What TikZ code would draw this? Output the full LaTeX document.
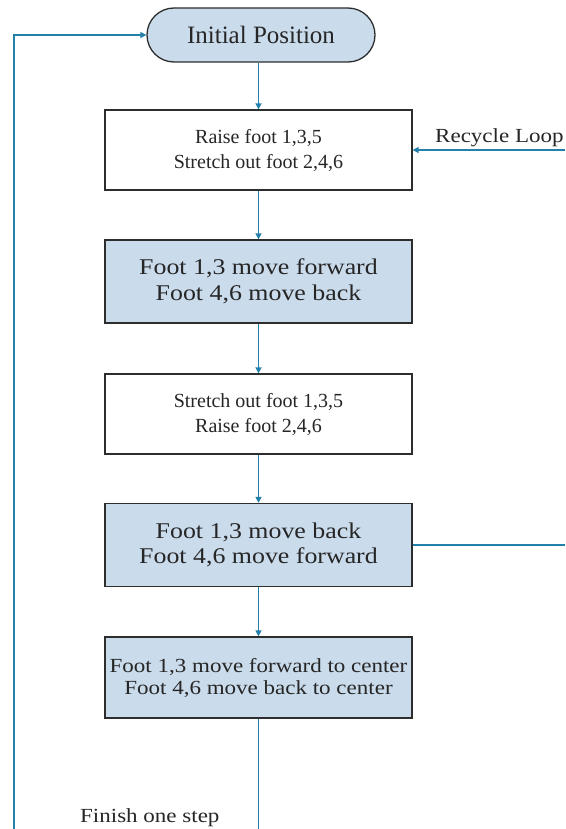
\documentclass[tikz,border=0pt]{standalone}
\usepackage{fontspec}
\setmainfont{Liberation Serif}
\newfontfamily\widefont{Liberation Serif}[FakeStretch=1.15]
\usetikzlibrary{arrows.meta}
\definecolor{flow}{RGB}{35,128,170}
\definecolor{boxfill}{RGB}{202,219,235}
\definecolor{boxline}{RGB}{45,45,45}
\tikzset{
  base/.style={draw=boxline, line width=1.3pt, rectangle, minimum width=307pt, inner sep=2pt, align=center, text=black!85},
  plainbox/.style={base, fill=white, minimum height=80pt, font=\fontsize{20}{25}\selectfont},
  bluebox/.style={base, fill=boxfill, minimum height=83pt, font=\widefont\fontsize{22.5}{25.5}\selectfont},
  smallblue/.style={base, fill=boxfill, minimum height=81pt, font=\widefont\fontsize{20}{22}\selectfont},
  term/.style={base, fill=boxfill, minimum width=228pt, minimum height=54pt, rounded corners=27pt, font=\fontsize{25}{28}\selectfont},
  conn/.style={draw=flow, line width=1.7pt},
  arr/.style={conn, -{Triangle[length=6pt,width=6pt]}},
  lbl/.style={font=\widefont\fontsize{20}{22}\selectfont, text=black!85, inner sep=0pt, anchor=base west}
}
\begin{document}
\begin{tikzpicture}[x=1pt,y=-1pt]
\useasboundingbox (0,0) rectangle (565,829);
\node[term] (init) at (261,35) {Initial Position};
\node[plainbox] (b1) at (258.5,150) {Raise foot 1,3,5\\Stretch out foot 2,4,6};
\node[bluebox] (b2) at (258.5,281.5) {Foot 1,3 move forward\\Foot 4,6 move back};
\node[plainbox] (b3) at (258.5,414) {Stretch out foot 1,3,5\\Raise foot 2,4,6};
\node[bluebox] (b4) at (258.5,545) {Foot 1,3 move back\\Foot 4,6 move forward};
\node[smallblue] (b5) at (258.5,677.5) {Foot 1,3 move forward to center\\Foot 4,6 move back to center};
\coordinate (bot) at (258.5,829);
\coordinate (leftbot) at (14,829);
\coordinate (rin) at (565,150);
\coordinate (rout) at (565,545);
\node[lbl] (rl) at (435,143) {Recycle Loop};
\node[lbl] (fl) at (80,822) {Finish one step};
\draw[arr] (b1.north |- init.south) -- (b1.north);
\draw[arr] (b1.south) -- (b2.north);
\draw[arr] (b2.south) -- (b3.north);
\draw[arr] (b3.south) -- (b4.north);
\draw[arr] (b4.south) -- (b5.north);
\draw[conn] (b5.south) -- (bot);
\draw[arr] (leftbot) |- (init.west);
\draw[arr] (rin) -- (b1.east);
\draw[conn] (b4.east) -- (rout);
\end{tikzpicture}
\end{document}
